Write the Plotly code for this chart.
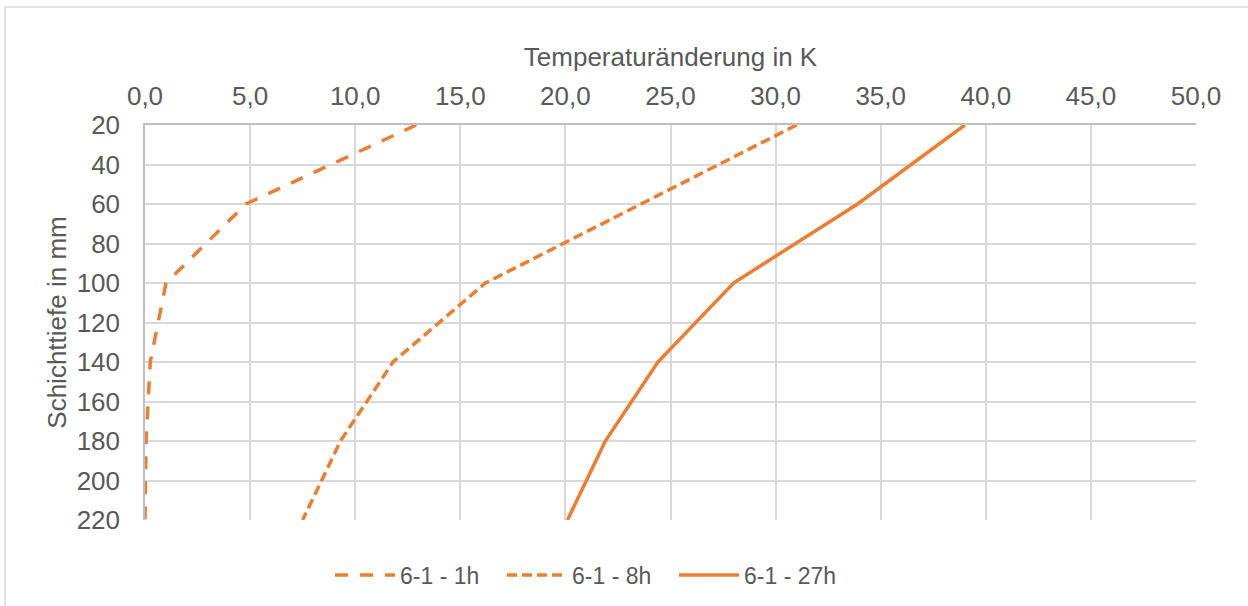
import plotly.graph_objects as go

# Layer depth (mm) and temperature change (K) per measurement time
depth_mm = [20, 60, 100, 140, 180, 220]
delta_1h = [12.9, 4.8, 1.0, 0.25, 0.05, 0.0]
delta_8h = [31.0, 23.6, 16.2, 11.8, 9.3, 7.5]
delta_27h = [39.0, 33.9, 28.0, 24.4, 21.9, 20.1]

series_names = ["6-1 - 1h", "6-1 - 8h", "6-1 - 27h"]
x_ticks = [0, 5, 10, 15, 20, 25, 30, 35, 40, 45, 50]
x_tick_labels = ["0,0", "5,0", "10,0", "15,0", "20,0", "25,0", "30,0", "35,0", "40,0", "45,0", "50,0"]
y_ticks = [20, 40, 60, 80, 100, 120, 140, 160, 180, 200, 220]

ORANGE = "#ED7D31"
TEXT = "#595959"
GRID = "#D9D9D9"
FONT = "Liberation Sans, Arial, sans-serif"
FS = 26
FS_LEGEND = 23

fig = go.Figure()
for name, values, dash in [
    (series_names[0], delta_1h, "13px,12px"),
    (series_names[1], delta_8h, "10px,5px"),
    (series_names[2], delta_27h, "solid"),
]:
    fig.add_trace(go.Scatter(
        x=values, y=depth_mm, name=name, mode="lines",
        line=dict(color=ORANGE, width=3.5, dash=dash),
        cliponaxis=True,
    ))

W, H = 1248, 606
L, R, T, B = 145, 52, 125, 86
pw, ph = W - L - R, H - T - B

fig.update_layout(
    width=W, height=H,
    margin=dict(l=L, r=R, t=T, b=B, autoexpand=False),
    paper_bgcolor="white", plot_bgcolor="white",
    font=dict(family=FONT, size=FS, color=TEXT),
    showlegend=True,
    legend=dict(
        orientation="h", x=(330 - L) / pw, xanchor="left",
        y=(520 - 575) / ph, yanchor="middle",
        font=dict(size=FS_LEGEND, color=TEXT),
        itemwidth=60, entrywidth=97, entrywidthmode="pixels",
        tracegroupgap=0,
        bgcolor="rgba(0,0,0,0)",
    ),
    xaxis=dict(
        side="top", range=[0, 50], tickvals=x_ticks, ticktext=x_tick_labels,
        showgrid=True, gridcolor=GRID, gridwidth=1.5,
        showline=True, linecolor="#BFBFBF", linewidth=1.5, mirror=False,
        zeroline=False, ticks="", ticklabelstandoff=8,
        title=dict(text="Temperaturänderung in K", standoff=7,
                   font=dict(size=FS, color=TEXT)),
        fixedrange=True,
    ),
    yaxis=dict(
        range=[220, 20], tickvals=y_ticks,
        showgrid=True, gridcolor=GRID, gridwidth=1.5,
        showline=True, linecolor="#BFBFBF", linewidth=1.5,
        zeroline=False, ticks="", ticklabelstandoff=18,
        title=dict(text="Schichttiefe in mm", standoff=3,
                   font=dict(size=FS, color=TEXT)),
        fixedrange=True,
    ),
)

# Chart-area border
fig.add_shape(
    type="rect", xref="paper", yref="paper",
    x0=(5 - L) / pw, x1=(1262 - L) / pw,
    y0=(H - B - 620) / ph, y1=(H - B - 7) / ph,
    line=dict(color=GRID, width=1.5), fillcolor="rgba(0,0,0,0)", layer="below",
)

fig.write_html("out.html")
